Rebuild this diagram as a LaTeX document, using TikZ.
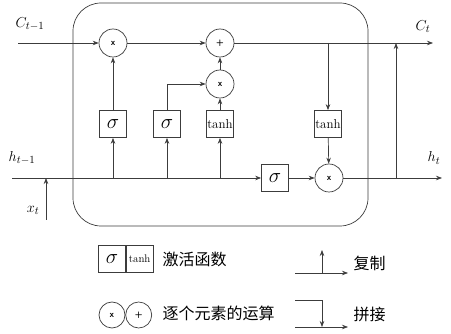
\documentclass[tikz,border=0pt]{standalone}
\usepackage{fontspec}
\newfontfamily\cjk{Noto Sans CJK SC}
\definecolor{lnGray}{RGB}{60,60,60}
\usetikzlibrary{arrows.meta,positioning}

\tikzset{
  flow/.style={-{Stealth[length=6pt,width=4.5pt]}, draw=lnGray, line width=0.7pt},
  plain/.style={draw=lnGray, line width=0.7pt},
  gatebox/.style={draw=lnGray, line width=0.7pt, fill=white, minimum width=27pt, minimum height=27pt, inner sep=0pt},
  opcirc/.style={draw=lnGray, line width=0.7pt, fill=white, circle, minimum size=28pt, inner sep=0pt, font=\sffamily\bfseries\small},
  mathlbl/.style={font=\fontsize{15}{15}\selectfont},
  cnlbl/.style={font=\cjk\fontsize{16}{16}\selectfont, anchor=west}
}
\newcommand{\sig}{\fontsize{20}{20}\selectfont$\sigma$}
\newcommand{\tnh}{\fontsize{13}{13}\selectfont tanh}

\begin{document}
\begin{tikzpicture}[x=1pt,y=-1pt]
    \useasboundingbox (0,0) rectangle (451,334);

    % cell
    \draw[plain, rounded corners=28pt] (73,3) rectangle (368,226);

    % inputs and outputs
    \coordinate (cin) at (18,43);
    \coordinate (cout) at (433,43);
    \coordinate (hin) at (12,178);
    \coordinate (hout) at (442,178);
    \coordinate (xin) at (46,220);
    \coordinate (hcopy) at (396,178);

    \node[mathlbl] (clast) at (30,24) {$C_{t-1}$};
    \node[mathlbl] (cnext) at (423,27) {$C_{t}$};
    \node[mathlbl] (hlast) at (22,158) {$h_{t-1}$};
    \node[mathlbl] (hnext) at (434,158) {$h_{t}$};
    \node[mathlbl] (xnow) at (33,210) {$x_{t}$};

    % operations
    \node[opcirc] (fmul) at (113,43) {x};
    \node[opcirc] (cadd) at (220,43) {+};
    \node[opcirc] (imul) at (220,84) {x};
    \node[opcirc] (omul) at (329,178) {x};

    % gates
    \node[gatebox] (fgate) at (113,124) {\sig};
    \node[gatebox] (igate) at (167,124) {\sig};
    \node[gatebox] (cgate) at (220,124) {\tnh};
    \node[gatebox] (ogate) at (275,178) {\sig};
    \node[gatebox] (ctanh) at (328,124) {\tnh};

    % cell state
    \draw[flow] (cin) -- (fmul);
    \draw[flow] (fmul) -- (cadd);
    \draw[flow] (cadd) -- (cout);

    % hidden state
    \draw[flow] (hin) -- (ogate);
    \draw[flow] (ogate) -- (omul);
    \draw[flow] (omul) -- (hout);
    \draw[flow] (xin) -- (xin |- hin);

    \draw[flow] (fgate.south |- hin) -- (fgate);
    \draw[flow] (igate.south |- hin) -- (igate);
    \draw[flow] (cgate.south |- hin) -- (cgate);

    \draw[flow] (fgate) -- (fmul);
    \draw[flow] (igate) |- (imul);
    \draw[flow] (cgate) -- (imul);
    \draw[flow] (imul) -- (cadd);

    \draw[flow] (ctanh.north |- cout) -- (ctanh);
    \draw[flow] (ctanh) -- (omul);
    \draw[flow] (hcopy) -- (hcopy |- cout);

    % legend
    \node[gatebox] (lsig) at (112,259) {\sig};
    \node[gatebox, right=0pt of lsig, font=\fontsize{11}{11}\selectfont] (ltanh) {tanh};
    \node[cnlbl] (lact) at (159,259) {激活函数};

    \node[opcirc, minimum size=26pt] (lmul) at (112,315) {x};
    \node[opcirc, minimum size=26pt, right=0pt of lmul] (ladd) {+};
    \node[cnlbl] (lpoint) at (159,313) {逐个元素的运算};

    \coordinate (cpa) at (295,273);
    \coordinate (cpb) at (348,273);
    \coordinate (cpc) at (322,250);
    \draw[flow] (cpa) -- (cpb);
    \draw[flow] (cpc |- cpa) -- (cpc);
    \node[cnlbl] (lcopy) at (350,263) {复制};

    \coordinate (jna) at (295,300);
    \coordinate (jnb) at (295,327);
    \coordinate (jnc) at (348,327);
    \draw[flow] (jnb) -- (jnc);
    \draw[flow] (jna) -| (cpc |- jnb);
    \node[cnlbl] (ljoin) at (350,314) {拼接};
\end{tikzpicture}
\end{document}
